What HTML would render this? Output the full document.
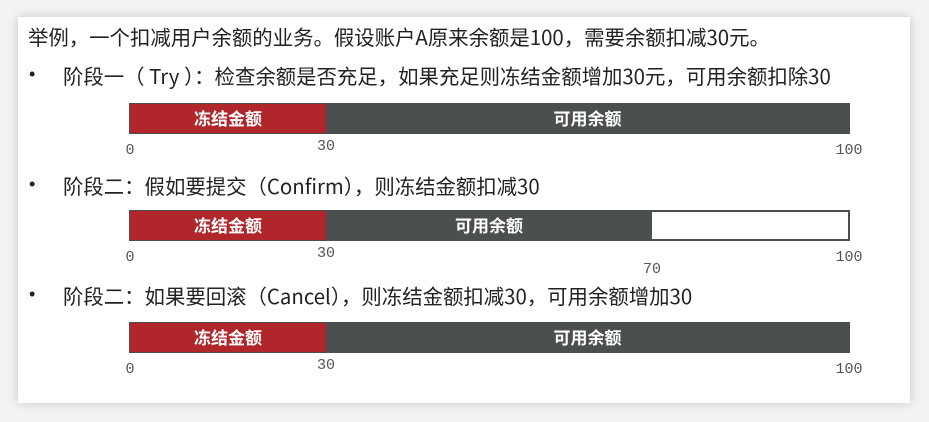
<!DOCTYPE html>
<html><head><meta charset="utf-8"><style>
body{margin:0;width:929px;height:422px;background:#f3f3f3;overflow:hidden;font-family:"Liberation Sans","Noto Sans CJK SC",sans-serif;}
.card{position:absolute;left:18px;top:17px;width:892px;height:386px;background:#fff;box-shadow:0 0 10px rgba(0,0,0,0.18);}
.t{position:absolute;font-size:20.4px;line-height:22px;color:#222;white-space:nowrap;font-family:"Noto Sans CJK SC",sans-serif;}
.b{position:absolute;font-size:18px;color:#222;}
svg{position:absolute;left:0;top:0}
</style></head><body>
<div class="card"></div>
<div class="t" style="left:28px;top:25px">举例，一个扣减用户余额的业务。假设账户A原来余额是100，需要余额扣减30元。</div>
<div class="b" style="left:29px;top:64px">•</div>
<div class="t" style="left:63px;top:64px">阶段一（ Try ）：检查余额是否充足，如果充足则冻结金额增加30元，可用余额扣除30</div>
<div class="b" style="left:29px;top:174px">•</div>
<div class="t" style="left:63px;top:174px">阶段二：假如要提交（Confirm），则冻结金额扣减30</div>
<div class="b" style="left:29px;top:284px">•</div>
<div class="t" style="left:63px;top:284px">阶段二：如果要回滚（Cancel），则冻结金额扣减30，可用余额增加30</div>
<svg id="c" width="929" height="422"></svg>
<script>
const frozen=[30,30,30];
const availEnd=[100,70,100];
const total=[100,100,100];
const tickSets=[[0,30,100],[0,30,70,100],[0,30,100]];
const barTops=[104,211,323];
// piecewise axis (reference drawing is not linear)
const dom=[0,30,70,100], rng=[130,326,652,849];
function x(v){for(let i=1;i<dom.length;i++){if(v<=dom[i]||i===dom.length-1){const a=dom[i-1],b=dom[i];return rng[i-1]+(v-a)/(b-a)*(rng[i]-rng[i-1]);}}}
const svg=document.getElementById('c');
const NS='http://www.w3.org/2000/svg';
function mk(tag,a){const e=document.createElementNS(NS,tag);for(const k in a)e.setAttribute(k,a[k]);svg.appendChild(e);return e;}
barTops.forEach((y,i)=>{
  const bg=mk('rect',{x:x(0),y:y,width:x(total[i])-x(0),height:29,fill:'#fff',stroke:'#4b4f50','stroke-width':2});
  
  
  const r=mk('rect',{x:x(0),y:y,width:x(frozen[i])-x(0),height:29,fill:'#b0262a'});
  
  
  const g=mk('rect',{x:x(frozen[i]),y:y,width:x(availEnd[i])-x(frozen[i]),height:29,fill:'#4b4f50'});
  
  
  const t1=mk('text',{x:(x(0)+x(frozen[i]))/2,y:y+21,'text-anchor':'middle',fill:'#fff','font-size':17,'font-weight':'bold','font-family':'Noto Sans CJK SC, sans-serif'});
  t1.textContent='冻结金额';
  
  
  const t2=mk('text',{x:(x(frozen[i])+x(availEnd[i]))/2,y:y+21,'text-anchor':'middle',fill:'#fff','font-size':17,'font-weight':'bold','font-family':'Noto Sans CJK SC, sans-serif'});
  t2.textContent='可用余额';
  
  
  tickSets[i].forEach(v=>{
    const dy=(v===70)?39:(v===30?23:27);
    const t=mk('text',{x:x(v),y:y+29+dy-6,'text-anchor':'middle',fill:'#555','font-size':15,'font-family':'Liberation Mono, monospace'});
    t.textContent=v;
    
    
  });
});
</script>
</body></html>
